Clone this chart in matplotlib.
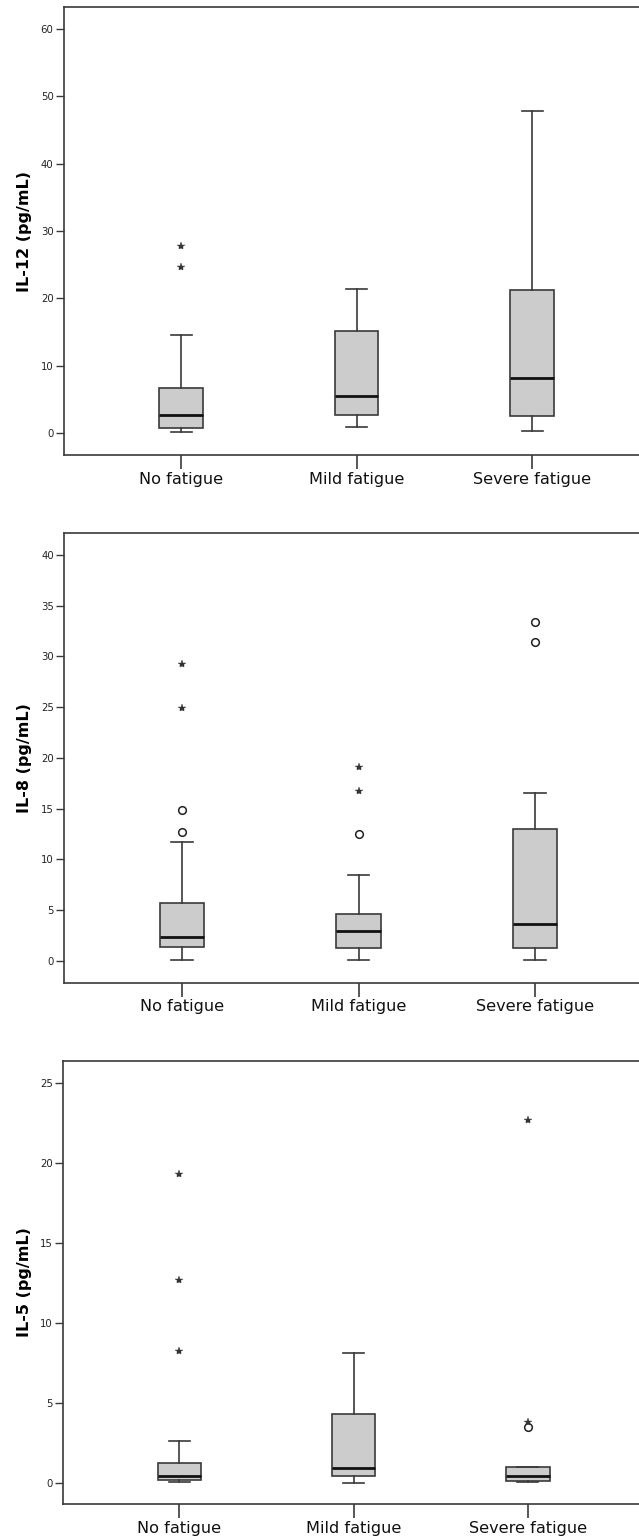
import matplotlib
matplotlib.use("Agg")
import matplotlib.pyplot as plt

categories = ["No fatigue", "Mild fatigue", "Severe fatigue"]

# IL-12 panel: whislo, q1, med, q3, whishi
il12_whislo = [0.1, 0.85, 0.2]
il12_q1 = [0.65, 2.6, 2.5]
il12_med = [2.6, 5.5, 8.1]
il12_q3 = [6.6, 15.1, 21.3]
il12_whishi = [14.6, 21.4, 47.8]
il12_circles = [[], [], []]
il12_stars = [[27.8, 24.7], [], []]
il12_ticks = [0, 10, 20, 30, 40, 50, 60]

# IL-8 panel
il8_whislo = [0.07, 0.04, 0.07]
il8_q1 = [1.35, 1.28, 1.28]
il8_med = [2.3, 2.93, 3.59]
il8_q3 = [5.66, 4.64, 12.96]
il8_whishi = [11.73, 8.45, 16.5]
il8_circles = [[14.9, 12.7], [12.47], [33.4, 31.4]]
il8_stars = [[29.3, 24.9], [16.7, 19.1], []]
il8_ticks = [0, 5, 10, 15, 20, 25, 30, 35, 40]

# IL-5 panel
il5_whislo = [0.06, 0.02, 0.06]
il5_q1 = [0.19, 0.46, 0.1]
il5_med = [0.44, 0.96, 0.42]
il5_q3 = [1.27, 4.29, 1.0]
il5_whishi = [2.64, 8.14, 1.0]
il5_circles = [[], [], [3.52]]
il5_stars = [[19.3, 12.7, 8.26], [], [22.7, 3.83]]
il5_ticks = [0, 5, 10, 15, 20, 25]

W, H = 639, 1538
fig = plt.figure(figsize=(W / 100, H / 100), dpi=100)

panels = [
    dict(label="IL-12 (pg/mL)", lo=il12_whislo, q1=il12_q1, med=il12_med, q3=il12_q3,
         hi=il12_whishi, circ=il12_circles, star=il12_stars, ticks=il12_ticks,
         ylim=(-3.3, 63.3), box=(64, 7, 455, 175.5)),
    dict(label="IL-8 (pg/mL)", lo=il8_whislo, q1=il8_q1, med=il8_med, q3=il8_q3,
         hi=il8_whishi, circ=il8_circles, star=il8_stars, ticks=il8_ticks,
         ylim=(-2.17, 42.2), box=(64.3, 532.7, 982.7, 176.5)),
    dict(label="IL-5 (pg/mL)", lo=il5_whislo, q1=il5_q1, med=il5_med, q3=il5_q3,
         hi=il5_whishi, circ=il5_circles, star=il5_stars, ticks=il5_ticks,
         ylim=(-1.33, 26.38), box=(63.3, 1060.7, 1504.3, 174.2)),
]

edge = "#3a3a3a"
for p in panels:
    left, top, bottom, spacing = p["box"]
    width = spacing * (2.667 + 0.667)
    ax = fig.add_axes([left / W, 1 - bottom / H, width / W, (bottom - top) / H])
    stats = []
    for i in range(3):
        stats.append(dict(whislo=p["lo"][i], q1=p["q1"][i], med=p["med"][i],
                          q3=p["q3"][i], whishi=p["hi"][i], fliers=[]))
    ax.bxp(stats, positions=[0, 1, 2], widths=0.25, capwidths=0.12,
           patch_artist=True, showfliers=False,
           boxprops=dict(facecolor="#cccccc", edgecolor=edge, linewidth=1.2),
           whiskerprops=dict(color=edge, linewidth=1.2),
           capprops=dict(color=edge, linewidth=1.2),
           medianprops=dict(color="#111111", linewidth=2.0))
    for i in range(3):
        if p["circ"][i]:
            ax.plot([i] * len(p["circ"][i]), p["circ"][i], linestyle="none",
                    marker="o", markersize=5.5, markerfacecolor="white",
                    markeredgecolor="#222222", markeredgewidth=1.1)
        if p["star"][i]:
            ax.plot([i] * len(p["star"][i]), p["star"][i], linestyle="none",
                    marker="*", markersize=6, markeredgewidth=0.3, color="#333333")
    ax.set_xlim(-0.667, 2.667)
    ax.set_ylim(*p["ylim"])
    ax.set_yticks(p["ticks"])
    ax.set_yticklabels([str(t) for t in p["ticks"]], fontsize=7.3, color="#222222")
    ax.set_xticks([0, 1, 2])
    ax.set_xticklabels(categories, fontsize=11.6, color="#111111")
    ax.tick_params(axis="y", length=6, width=1.0, color=edge, pad=1.5)
    ax.tick_params(axis="x", length=10, width=1.2, color=edge, pad=2)
    ax.set_ylabel(p["label"], fontsize=11.5, fontweight="bold")
    ax.yaxis.set_label_coords(-(left - 32) / width, 0.5)
    for s in ax.spines.values():
        s.set_color(edge)
        s.set_linewidth(1.2)

fig.savefig("out.png", dpi=100)
